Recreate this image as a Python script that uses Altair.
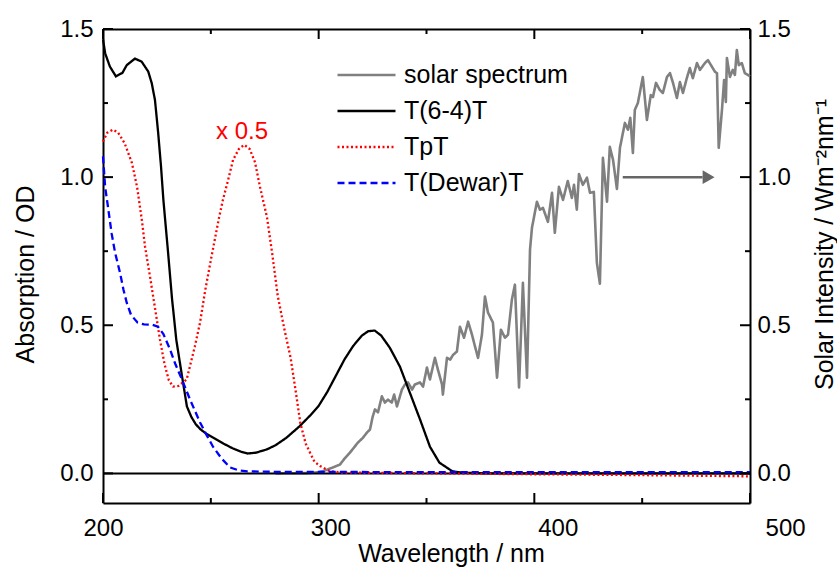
import altair as alt
import pandas as pd

FONT = "Liberation Sans"

# ---------------- data ----------------
series_names = ["solar spectrum", "T(6-4)T", "TpT", "T(Dewar)T"]
series_colors = ["#808080", "#000000", "#ff0000", "#0000ff"]
series_dashes = [[1, 0], [1, 0], [2, 2.5], [7, 4]]

t64_wl = [200, 201, 203.2, 206, 209, 211, 214.8, 217.9, 221, 222.6, 224.1, 225.6, 226.9, 228,
          230, 232, 234, 236.6, 238.9, 241, 243, 245, 248, 252, 256, 260, 264, 267, 271, 276,
          280, 285, 291, 296, 300, 304, 308, 312, 316, 320, 323, 326, 329, 333, 337.7, 342.3,
          347, 351.6, 356, 362, 366, 372, 380, 420, 460, 500]
t64_abs = [1.465, 1.418, 1.373, 1.34, 1.352, 1.378, 1.40, 1.39, 1.356, 1.317, 1.26, 1.148, 1.036,
           0.923, 0.76, 0.59, 0.45, 0.33, 0.226, 0.19, 0.166, 0.15, 0.133, 0.117, 0.10, 0.085,
           0.073, 0.067, 0.07, 0.081, 0.095, 0.12, 0.158, 0.195, 0.228, 0.275, 0.33, 0.385,
           0.43, 0.465, 0.48, 0.482, 0.465, 0.424, 0.36, 0.272, 0.182, 0.09, 0.036, 0.007, 0.003,
           0.001, 0.0, 0.0, 0.0, 0.0]

tpt_wl = [200, 202, 204.6, 207, 210, 213.4, 215.8, 218, 219.5, 221.8, 224, 226.4, 228.5, 230.5,
          232.5, 235, 238.8, 242.6, 245, 247.3, 250, 253.8, 255.6, 258, 260.3, 263, 265.5, 268,
          270.5, 272.8, 276, 278.5, 281, 284, 287, 289.5, 291.5, 294, 296, 298, 300.6, 305, 310,
          350, 400, 450, 500]
tpt_abs = [1.12, 1.15, 1.16, 1.15, 1.115, 1.048, 0.967, 0.856, 0.765, 0.664, 0.563, 0.452, 0.37,
           0.315, 0.293, 0.295, 0.317, 0.429, 0.509, 0.614, 0.72, 0.863, 0.923, 0.99, 1.058,
           1.095, 1.109, 1.095, 1.05, 0.967, 0.866, 0.74, 0.60, 0.49, 0.39, 0.27, 0.17, 0.10,
           0.07, 0.04, 0.025, 0.008, 0.003, 0.0, -0.003, -0.006, -0.01]

dew_wl = [200, 201, 202.3, 204, 205.6, 207.9, 209.5, 211, 213, 216, 219, 222.7, 225.5, 228, 231,
          233.5, 236.6, 240.3, 245, 248, 251, 255, 258.9, 263, 267, 280, 300, 350, 400, 450, 500]
dew_abs = [1.07, 0.967, 0.90, 0.81, 0.745, 0.677, 0.62, 0.576, 0.535, 0.509, 0.503, 0.502, 0.495,
           0.47, 0.42, 0.37, 0.317, 0.25, 0.172, 0.13, 0.09, 0.05, 0.02, 0.01, 0.007, 0.005,
           0.005, 0.004, 0.004, 0.004, 0.004]

solar_wl = [280, 295, 300, 303, 306.6, 309.9, 312, 314.5, 318.2, 320.5, 322.4, 323.8, 325, 326.1,
            327.5, 329.3, 330.7, 332.1, 333.9, 335, 336.3, 338.6, 340, 341.4, 343.3, 344.6, 347,
            348.4, 350.2, 351.6, 353.9, 355.3, 357.2, 357.6, 359.5, 361, 362.3, 364.1, 365.5,
            367.4, 369.3, 371.1, 372.5, 373.9, 375.7, 377.1, 378.5, 380.8, 382.7, 384.5, 386.4,
            387.8, 389.6, 391, 392.9, 394.7, 396.6, 398, 398.9, 401.2, 402.6, 404, 406.3, 408.2,
            409.5, 411.4, 413.3, 415.5, 417.4, 418.4, 419.7, 420.7, 422.5, 424.4, 425.8, 427.6,
            429, 430.4, 431.8, 433.7, 435, 436.5, 438.3, 439.7, 442, 443.4, 444.5, 445.7, 446.6,
            448, 450.3, 452.2, 454, 455, 456.4, 458.2, 459.6, 461.5, 462.9, 464.3, 466.1, 467.5,
            468.9, 470.7, 472.1, 473.5, 475.4, 476.8, 479.1, 480.5, 482.4, 483.8, 484.7, 485.5,
            487, 488, 488.8, 489.3, 490.7, 492, 493, 493.9, 494.8, 496.2, 497.6, 499, 500]
solar_int = [0.0, 0.001, 0.004, 0.01, 0.02, 0.03, 0.05, 0.07, 0.104, 0.12, 0.138, 0.148, 0.19,
             0.216, 0.206, 0.26, 0.239, 0.249, 0.239, 0.266, 0.226, 0.283, 0.30, 0.307, 0.283,
             0.30, 0.307, 0.293, 0.357, 0.317, 0.39, 0.35, 0.30, 0.266, 0.39, 0.384, 0.40, 0.411,
             0.495, 0.458, 0.512, 0.468, 0.428, 0.39, 0.468, 0.597, 0.543, 0.509, 0.323, 0.485,
             0.458, 0.468, 0.587, 0.637, 0.29, 0.643, 0.323, 0.755, 0.829, 0.917, 0.89, 0.896,
             0.849, 0.947, 0.812, 0.967, 0.923, 0.987, 0.93, 0.974, 0.89, 1.01, 0.974, 0.998,
             0.947, 0.95, 0.711, 0.64, 1.065, 0.917, 1.102, 1.058, 0.96, 1.099, 1.183, 1.16, 1.2,
             1.082, 1.227, 1.25, 1.338, 1.193, 1.277, 1.27, 1.318, 1.294, 1.284, 1.338, 1.351,
             1.318, 1.267, 1.321, 1.284, 1.334, 1.368, 1.334, 1.385, 1.362, 1.385, 1.395, 1.372,
             1.355, 1.351, 1.099, 1.227, 1.328, 1.254, 1.402, 1.338, 1.362, 1.345, 1.429, 1.378,
             1.385, 1.351, 1.345, 1.34]

# annotations
ann_wl = [264.5]
ann_val = [1.13]
ann_text = ["x 0.5"]
arrow_wl = [441, 478]
arrow_val = [1.0, 1.0]
arrowhead_wl = [480.8]
arrowhead_val = [1.0]
zero_val = [0.0]

# tick values
x_major = [200, 300, 400, 500]
x_minor = [250, 350, 450]
y_major = [0.0, 0.5, 1.0, 1.5]
y_minor = [0.25, 0.75, 1.25]

W, H = 647, 474
X0, X1 = 200, 500
Y0, Y1 = -0.1, 1.5
PX_X = (X1 - X0) / W   # data units per pixel
PX_Y = (Y1 - Y0) / H
MAJ, MIN = 10, 5

# ---------------- tables ----------------
df_abs = pd.concat([
    pd.DataFrame({"wl": t64_wl, "val": t64_abs, "series": "T(6-4)T"}),
    pd.DataFrame({"wl": tpt_wl, "val": tpt_abs, "series": "TpT"}),
    pd.DataFrame({"wl": dew_wl, "val": dew_abs, "series": "T(Dewar)T"}),
], ignore_index=True)
df_solar = pd.DataFrame({"wl": solar_wl, "val": solar_int, "series": "solar spectrum"})
df_ann = pd.DataFrame({"wl": ann_wl, "val": ann_val, "txt": ann_text})
df_arrow = pd.DataFrame({"wl": arrow_wl, "val": arrow_val})
df_head = pd.DataFrame({"wl": arrowhead_wl, "val": arrowhead_val})
df_zero = pd.DataFrame({"val": zero_val})

# inward tick segments built from the tick values (two end points per tick)
rows = []
k = 0
for vals, ln in ((x_major, MAJ), (x_minor, MIN)):
    for t in vals:
        rows += [(t, Y0, k), (t, Y0 + ln * PX_Y, k)]
        k += 1
        rows += [(t, Y1, k), (t, Y1 - ln * PX_Y, k)]
        k += 1
for vals, ln in ((y_major, MAJ), (y_minor, MIN)):
    for t in vals:
        rows += [(X0, t, k), (X0 + ln * PX_X, t, k)]
        k += 1
        rows += [(X1, t, k), (X1 - ln * PX_X, t, k)]
        k += 1
df_ticks = pd.DataFrame(rows, columns=["wl", "val", "tick"])

xsc = alt.Scale(domain=[X0, X1], nice=False, zero=False)
ysc = alt.Scale(domain=[Y0, Y1], nice=False, zero=False)

leg = alt.Legend(title=None, orient="none", legendX=233, legendY=28, symbolType="stroke",
                 symbolSize=3364, symbolStrokeWidth=2.5, labelFontSize=25, labelFont=FONT,
                 labelColor="black", labelOffset=7, rowPadding=0, clipHeight=36, padding=0,
                 labelLimit=400)
color = alt.Color("series:N", scale=alt.Scale(domain=series_names, range=series_colors), legend=leg)
dash = alt.StrokeDash("series:N", scale=alt.Scale(domain=series_names, range=series_dashes), legend=leg)

common_lab = dict(labelFont=FONT, labelFontSize=24, labelColor="black", labelFlush=False,
                  labelOverlap=False, labelBound=False, titleFont=FONT, titleFontSize=25,
                  titleFontWeight="normal", titleColor="black", domainColor="black",
                  domainWidth=2, grid=False, ticks=False)

ax_bottom = alt.Axis(orient="bottom", values=x_major, format="d", tickSize=0, labelPadding=13,
                     labelOffset=alt.ExprRef("(datum.value - 200) * 0.117"),
                     title="Wavelength / nm", titleX=348, titleY=58, titleBaseline="alphabetic",
                     titleAlign="center", **common_lab)
ax_top = alt.Axis(orient="top", values=x_major, labels=False, ticks=False, domain=True,
                  domainColor="black", domainWidth=2, grid=False, title=None)
ax_left = alt.Axis(orient="left", values=y_major, format=".1f", tickSize=0, labelPadding=10,
                   title="Absorption / OD", titleAngle=-90, titleX=-70, titleY=245,
                   titleBaseline="alphabetic", titleAlign="center", **common_lab)
ax_right = alt.Axis(orient="right", values=y_major, format=".1f", tickSize=0, labelPadding=7,
                    title="Solar Intensity / Wm⁻²nm⁻¹", titleAngle=-90, titleX=82,
                    titleY=215, titleBaseline="alphabetic", titleAlign="center", **common_lab)


def X(axis):
    return alt.X("wl:Q", scale=xsc, axis=axis)


def Y(axis):
    return alt.Y("val:Q", scale=ysc, axis=axis)


solar = alt.Chart(df_solar).mark_line(strokeWidth=2.6, strokeJoin="round").encode(
    x=X(ax_bottom), y=Y(ax_right), color=color, strokeDash=dash)

zero = alt.Chart(df_zero).mark_rule(color="black", strokeWidth=2).encode(y=Y(None))

absorb = alt.Chart(df_abs).mark_line(strokeWidth=2.3).encode(
    x=X(ax_top), y=Y(ax_left), color=color, strokeDash=dash, detail="series:N")

ticks = alt.Chart(df_ticks).mark_line(color="black", strokeWidth=2, strokeCap="butt").encode(
    x=X(None), y=Y(None), detail="tick:N")

ann = alt.Chart(df_ann).mark_text(color="#ff0000", fontSize=24, font=FONT, align="center",
                                  baseline="alphabetic").encode(
    x=X(None), y=Y(None), text="txt:N")

arrow = alt.Chart(df_arrow).mark_line(color="#666666", strokeWidth=2.5).encode(x=X(None), y=Y(None))
head = alt.Chart(df_head).mark_point(shape="triangle-right", filled=True, color="#666666",
                                     opacity=1, size=190).encode(x=X(None), y=Y(None))

chart = alt.layer(solar, zero, absorb, ticks, ann, arrow, head).resolve_axis(
    x="independent", y="independent"
).properties(
    width=W, height=H,
    autosize=alt.AutoSizeParams(type="none"),
    padding={"left": 103, "top": 29, "right": 87, "bottom": 69},
    background="white",
).configure_view(stroke=None)

chart.save("out.html", embed_options={"renderer": "svg", "actions": False})
